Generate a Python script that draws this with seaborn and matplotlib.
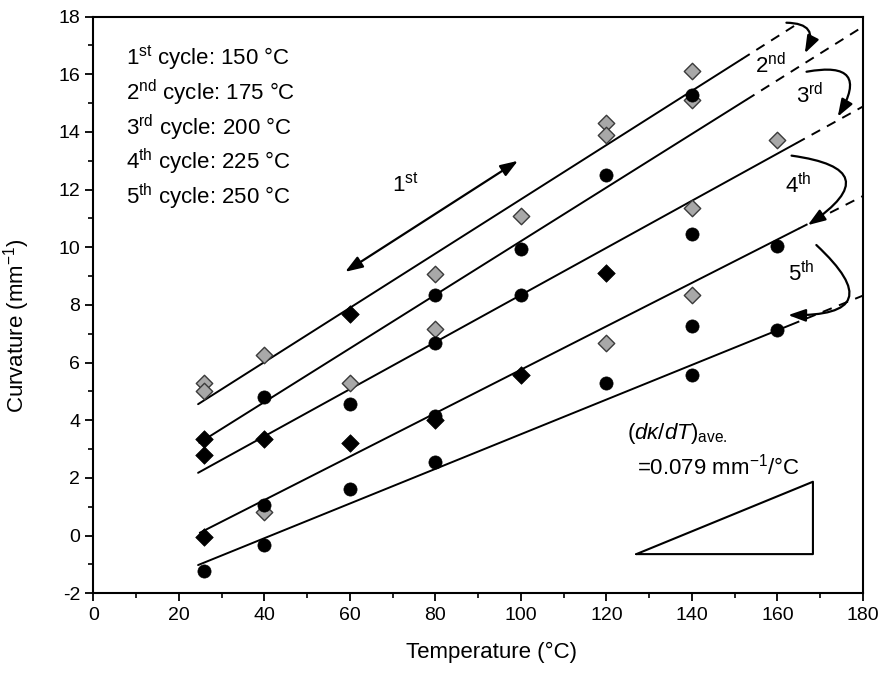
import numpy as np
import pandas as pd
import matplotlib
matplotlib.use("Agg")
import matplotlib.pyplot as plt
import seaborn as sns

# ---------------- data ----------------
circle_x = [26, 40, 40, 40, 60, 60, 80, 80, 80, 80, 100, 100, 120, 120, 140, 140, 140, 140, 160, 160]
circle_y = [-1.22, 4.8, 1.07, -0.32, 4.57, 1.62, 8.35, 6.67, 4.15, 2.55, 9.95, 8.35, 12.5, 5.3,
            15.3, 10.45, 7.27, 5.58, 10.05, 7.15]

bdiam_x = [26, 26, 26, 40, 60, 60, 80, 100, 120]
bdiam_y = [3.35, 2.8, -0.03, 3.35, 7.7, 3.23, 4.0, 5.58, 9.1]

gdiam_x = [26, 26, 40, 40, 60, 80, 80, 100, 120, 120, 120, 140, 140, 140, 140, 160]
gdiam_y = [5.3, 5.0, 6.25, 0.83, 5.3, 9.08, 7.17, 11.1, 14.3, 13.9, 6.68, 16.1, 15.12, 11.37, 8.35, 13.72]

# fitted lines: slope, intercept, solid range, dashed end
fit_slope = [0.0941, 0.0930, 0.0817, 0.0753, 0.0601]
fit_icept = [2.255, 0.914, 0.178, -1.775, -2.492]
fit_x0 = [24.5, 24.8, 24.5, 24.9, 24.5]
fit_x1 = [151.6, 152.7, 164.4, 165.0, 163.0]
fit_x2 = [164.0, 180.0, 180.0, 180.0, 180.0]

legend_lines = [r"1$^{\rm st}$ cycle: 150 °C", r"2$^{\rm nd}$ cycle: 175 °C",
                r"3$^{\rm rd}$ cycle: 200 °C", r"4$^{\rm th}$ cycle: 225 °C",
                r"5$^{\rm th}$ cycle: 250 °C"]
cycle_labels = [r"2$^{\rm nd}$", r"3$^{\rm rd}$", r"4$^{\rm th}$", r"5$^{\rm th}$"]
cycle_label_pos = [(158.3, 16.3), (167.6, 15.25), (164.8, 12.15), (165.6, 9.1)]
arrow_start = [(162.1, 17.79), (166.8, 16.09), (163.3, 13.18), (169.1, 10.08)]
arrow_end = [(166.4, 16.73), (174.1, 14.53), (167.1, 10.77), (162.5, 7.65)]
arrow_rad = [-0.8, -1.1, -1.3, -1.3]

xticks = list(range(0, 181, 20))
yticks = list(range(-2, 19, 2))

# ---------------- style ----------------
sns.set_style("ticks")
plt.rcParams['font.family'] = ['Liberation Sans', 'DejaVu Sans']
plt.rcParams['mathtext.fontset'] = 'custom'
plt.rcParams['mathtext.rm'] = 'Liberation Sans'
plt.rcParams['mathtext.it'] = 'Liberation Sans:italic'
plt.rcParams['mathtext.bf'] = 'Liberation Sans:bold'
plt.rcParams['axes.unicode_minus'] = False
plt.rcParams['text.color'] = 'black'
plt.rcParams['axes.labelcolor'] = 'black'
plt.rcParams['xtick.color'] = 'black'
plt.rcParams['ytick.color'] = 'black'

fig = plt.figure(figsize=(8.88, 6.83), dpi=100)
ax = fig.add_axes([0.1051, 0.1313, 0.9718 - 0.1051, 0.9756 - 0.1313])

# fitted lines
for s, b, x0, x1, x2 in zip(fit_slope, fit_icept, fit_x0, fit_x1, fit_x2):
    xs = np.array([x0, x1])
    ax.plot(xs, s * xs + b, color='black', lw=1.4, zorder=2)
    xd = np.array([x1, x2])
    ax.plot(xd, s * xd + b, color='black', lw=1.4, ls=(0, (5, 4)), zorder=2)

# points
df_c = pd.DataFrame({'x': circle_x, 'y': circle_y})
df_b = pd.DataFrame({'x': bdiam_x, 'y': bdiam_y})
df_g = pd.DataFrame({'x': gdiam_x, 'y': gdiam_y})
sns.scatterplot(data=df_g, x='x', y='y', marker='D', s=70, color='#a8a8a8',
                edgecolor='#3a3a3a', linewidth=1.0, ax=ax, zorder=3)
sns.scatterplot(data=df_b, x='x', y='y', marker='D', s=80, color='black',
                edgecolor='black', linewidth=0.5, ax=ax, zorder=4)
sns.scatterplot(data=df_c, x='x', y='y', marker='o', s=90, color='black',
                edgecolor='black', linewidth=0.5, ax=ax, zorder=4)

# axes
ax.set_xlim(0, 180)
ax.set_ylim(-2, 18)
ax.set_xticks(xticks)
ax.set_yticks(yticks)
ax.set_xticks(list(range(10, 180, 20)), minor=True)
ax.set_yticks(list(range(-1, 18, 2)), minor=True)
ax.tick_params(axis='both', which='major', direction='out', length=6, width=1.3,
               labelsize=14, colors='black', top=False, right=False)
ax.tick_params(axis='both', which='minor', direction='out', length=3.5, width=1.2,
               top=False, right=False)
for sp in ax.spines.values():
    sp.set_linewidth(1.5)
    sp.set_color('black')
ax.set_xlabel("Temperature (°C)", fontsize=16)
ax.set_ylabel(r"Curvature ($\rm mm^{-1}$)", fontsize=16)
ax.xaxis.set_label_coords(0.517, -0.085)
ax.yaxis.set_label_coords(-0.08, 0.464)

# legend-like text
for i, t in enumerate(legend_lines):
    ax.text(7.6, 16.57 - i * 1.207, t, fontsize=16, ha='left', va='center')

# 1st arrow
ax.annotate("", xy=(99.3, 13.0), xytext=(58.9, 9.15),
            arrowprops=dict(arrowstyle="<|-|>,head_length=0.7,head_width=0.25",
                            color='black', lw=1.6, shrinkA=0, shrinkB=0, mutation_scale=15))
ax.text(72.9, 12.16, r"1$^{\rm st}$", fontsize=16, ha='center', va='center')

# curved arrows
for (sx, sy), (ex, ey), r in zip(arrow_start, arrow_end, arrow_rad):
    ax.annotate("", xy=(ex, ey), xytext=(sx, sy),
                arrowprops=dict(arrowstyle="-|>,head_length=0.7,head_width=0.25",
                                connectionstyle=f"arc3,rad={r}", color='black', lw=1.6,
                                shrinkA=0, shrinkB=0, mutation_scale=15))
for t, (lx, ly) in zip(cycle_labels, cycle_label_pos):
    ax.text(lx, ly, t, fontsize=16, ha='center', va='center')

# slope annotation
ax.text(124.7, 3.56, r"$\mathit{(dκ/dT)}_{\rm ave.}$", fontsize=16, ha='left', va='center')
ax.text(127.1, 2.41, r"=0.079 $\rm mm^{-1}$/°C", fontsize=16, ha='left', va='center')
tri_x = [127.0, 168.3, 168.3, 127.0]
tri_y = [-0.64, -0.64, 1.87, -0.64]
ax.plot(tri_x, tri_y, color='black', lw=1.5)

fig.savefig("out.png", dpi=100)
